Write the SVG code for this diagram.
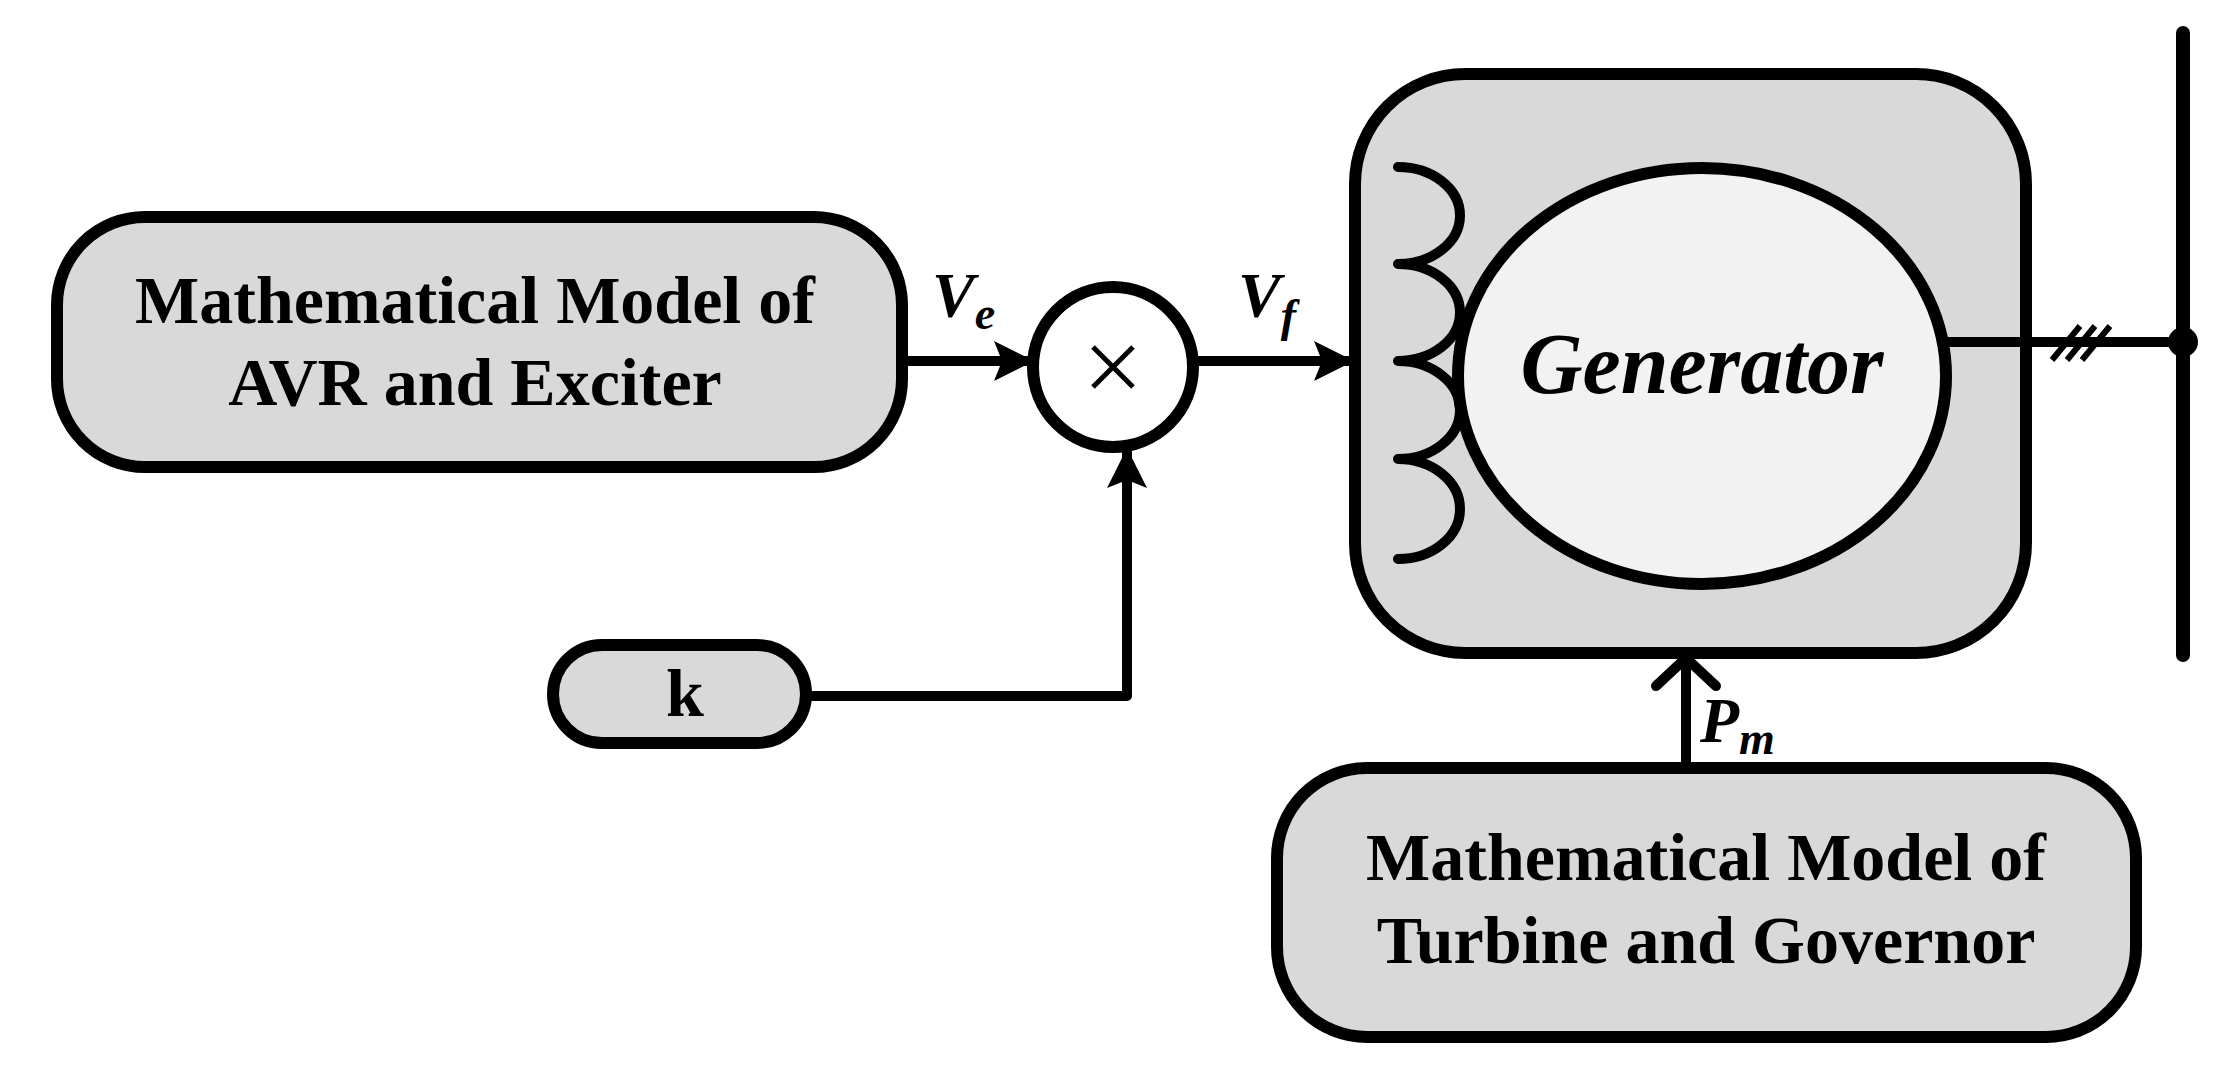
<svg xmlns="http://www.w3.org/2000/svg" width="2237" height="1079" viewBox="0 0 2237 1079">
<style>
.box{fill:#d9d9d9;stroke:#000;stroke-width:12}
.ln{fill:none;stroke:#000;stroke-width:10;stroke-linecap:round;stroke-linejoin:round}
.t{font-family:"Liberation Serif",serif;font-weight:bold;font-size:68px;text-anchor:middle}
.it{font-family:"Liberation Serif",serif;font-weight:bold;font-style:italic}
</style>
<defs>
<marker id="ah" viewBox="0 0 10 10" refX="9" refY="5" markerWidth="4" markerHeight="4" orient="auto" markerUnits="strokeWidth">
<path d="M0,0 L10,5 L0,10 L2,5 z" fill="#000"/>
</marker>
</defs>
<rect width="2237" height="1079" fill="#fff"/>
<g id="avr">
<rect class="box" x="57" y="217" width="845" height="250" rx="88"/>
<text class="t" x="475" y="323">Mathematical Model of</text>
<text class="t" x="475" y="405">AVR and Exciter</text>
</g>
<g id="k">
<rect class="box" x="553" y="645" width="253" height="98" rx="49"/>
<text class="t" x="685" y="716">k</text>
</g>
<g id="mult">
<circle cx="1113" cy="367" r="80" fill="#fff" stroke="#000" stroke-width="12"/>
<path d="M1093,347 L1133,387 M1133,347 L1093,387" stroke="#000" stroke-width="5"/>
</g>
<g id="generator">
<rect class="box" x="1355" y="74" width="671" height="579" rx="110"/>
<path class="ln" d="M1398,167 A62,48.5 0 0 1 1398,264 A62,48.5 0 0 1 1398,361 A62,49 0 0 1 1398,459 A62,50 0 0 1 1398,559"/>
<ellipse cx="1702" cy="376" rx="244" ry="208" fill="#f2f2f2" stroke="#000" stroke-width="12"/>
<text class="it" x="1702" y="393" font-size="86" text-anchor="middle">Generator</text>
</g>
<g id="turbine">
<rect class="box" x="1277" y="768" width="859" height="269" rx="90"/>
<text class="t" x="1706" y="880">Mathematical Model of</text>
<text class="t" x="1706" y="963">Turbine and Governor</text>
</g>
<g id="bus">
<line x1="2183" y1="33" x2="2183" y2="655" stroke="#000" stroke-width="14" stroke-linecap="round"/>
<circle cx="2183" cy="342" r="15" fill="#000"/>
</g>
<g id="connectors">
<line class="ln" x1="902" y1="361" x2="1030" y2="361" marker-end="url(#ah)"/>
<polyline class="ln" points="806,696 1127,696 1127,452" marker-end="url(#ah)"/>
<line class="ln" x1="1198" y1="361" x2="1350" y2="361" marker-end="url(#ah)"/>
<line class="ln" x1="1944" y1="342" x2="2183" y2="342"/>
<path d="M2052,360 L2080,326 M2067,360 L2095,326 M2082,360 L2110,326" stroke="#000" stroke-width="6"/>
<line class="ln" x1="1686" y1="763" x2="1686" y2="658"/>
<polyline class="ln" points="1656,686 1686,658 1716,686"/>
</g>
<g id="labels">
<text class="it" x="932" y="317" font-size="64">V<tspan font-size="46" dy="12">e</tspan></text>
<text class="it" x="1238" y="317" font-size="64">V<tspan font-size="46" dy="14">f</tspan></text>
<text class="it" x="1700" y="742" font-size="64">P<tspan font-size="46" dy="12">m</tspan></text>
</g>
</svg>
